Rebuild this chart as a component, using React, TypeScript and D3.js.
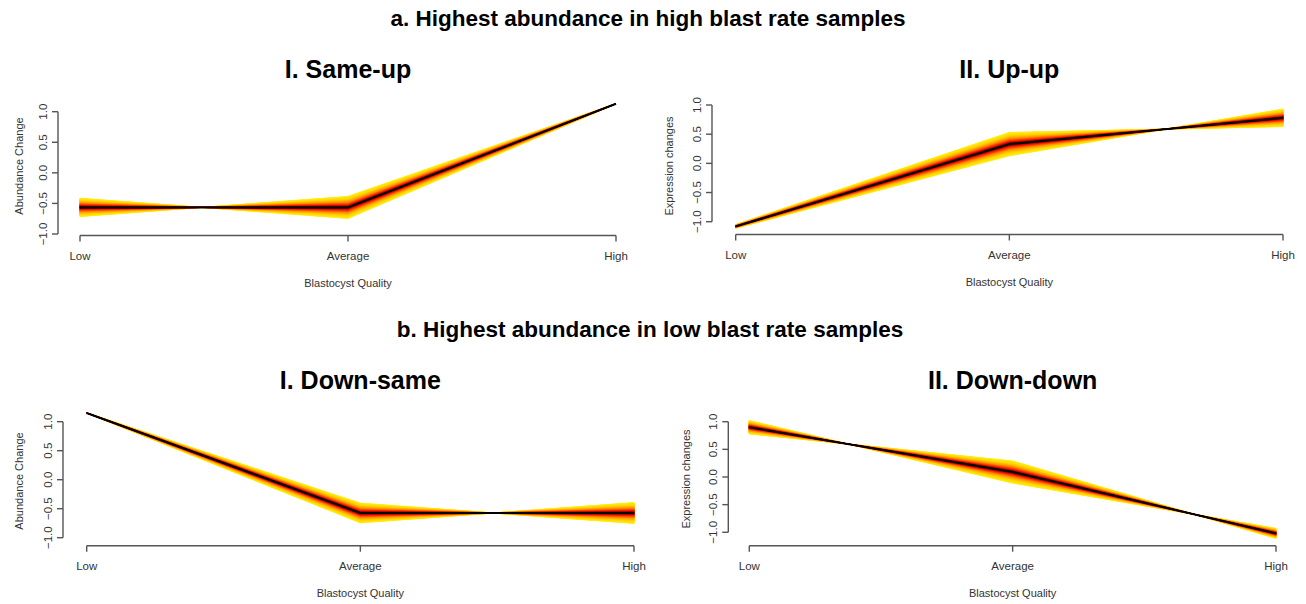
import * as d3 from 'd3';

// x categories and y ticks shared by all four panels
const categories = ['Low', 'Average', 'High'];
const yTicks = [-1, -0.5, 0, 0.5, 1];

// cluster centre per quality level, and signed half-width of the member fan
const sameUpCenter = [-0.565, -0.565, 1.13];
const sameUpSpread = [0.15, -0.18, 0];
const upUpCenter = [-1.08, 0.33, 0.78];
const upUpSpread = [0.03, 0.2, -0.15];
const downSameCenter = [1.15, -0.574, -0.574];
const downSameSpread = [0, 0.17, -0.18];
const downDownCenter = [0.9, 0.09, -1.02];
const downDownSpread = [0.12, -0.2, 0.09];

const sectionTitles = [
  'a. Highest abundance in high blast rate samples',
  'b. Highest abundance in low blast rate samples',
];

const W = 1306;
const H = 604;
const FONT = "'Liberation Sans', Arial, Helvetica, sans-serif";

// layout of each panel, in page pixels
const panels = [
  {
    title: 'I. Same-up', ylab: 'Abundance Change', center: sameUpCenter, spread: sameUpSpread,
    axisX: 58, yTop: 111.7, yBot: 234, axisY: 235.5, xLeft: 80, xRight: 616, ylabX: 23, ylabY: 166, titleY: 78,
  },
  {
    title: 'II. Up-up', ylab: 'Expression changes', center: upUpCenter, spread: upUpSpread,
    axisX: 712, yTop: 105, yBot: 221.7, axisY: 234.5, xLeft: 735.7, xRight: 1283, ylabX: 673, ylabY: 166, titleY: 78,
  },
  {
    title: 'I. Down-same', ylab: 'Abundance Change', center: downSameCenter, spread: downSameSpread,
    axisX: 63, yTop: 421.7, yBot: 537.7, axisY: 545.7, xLeft: 86.7, xRight: 634, ylabX: 23, ylabY: 481, titleY: 389,
  },
  {
    title: 'II. Down-down', ylab: 'Expression changes', center: downDownCenter, spread: downDownSpread,
    axisX: 728.3, yTop: 421.7, yBot: 532.3, axisY: 545.7, xLeft: 749.3, xRight: 1276, ylabX: 690, ylabY: 479, titleY: 389,
  },
];

// membership colour: 1 = outer (yellow) ... 0 = core (dark red)
const fanColor = d3
  .scaleLinear<string>()
  .domain([0, 0.07, 0.22, 0.45, 0.7, 1])
  .range(['#3a0000', '#9a0000', '#ff2200', '#ff9200', '#ffd400', '#fff21a'])
  .interpolate(d3.interpolateRgb);

const levels = d3.range(1, 0, -1 / 40);

function Panel({ p }: { p: (typeof panels)[number] }) {
  const x = d3.scalePoint<string>().domain(categories).range([p.xLeft, p.xRight]);
  const y = d3.scaleLinear().domain([-1, 1]).range([p.yBot, p.yTop]);
  const pts = categories.map((c, i) => ({ c, v: p.center[i], s: p.spread[i] }));

  const mid = (p.xLeft + p.xRight) / 2;

  return (
    <g>
      <text x={mid} y={p.titleY} textAnchor="middle" fontSize={25} fontWeight="bold" fill="#000">
        {p.title}
      </text>

      {levels.map((t) => {
        const area = d3
          .area<(typeof pts)[number]>()
          .x((d) => x(d.c) as number)
          .y0((d) => y(d.v + t * d.s))
          .y1((d) => y(d.v - t * d.s));
        return <path key={t} d={area(pts) ?? ''} fill={fanColor(t)} stroke={fanColor(t)} strokeWidth={1} />;
      })}
      <path
        d={d3.line<(typeof pts)[number]>().x((d) => x(d.c) as number).y((d) => y(d.v))(pts) ?? ''}
        fill="none"
        stroke="#000"
        strokeWidth={2}
        strokeLinejoin="round"
      />

      {/* y axis */}
      <line x1={p.axisX} x2={p.axisX} y1={y(1)} y2={y(-1)} stroke="#555" strokeWidth={1.4} />
      {yTicks.map((v) => (
        <g key={v}>
          <line x1={p.axisX - 6} x2={p.axisX} y1={y(v)} y2={y(v)} stroke="#555" strokeWidth={1.4} />
          <text
            transform={`translate(${p.axisX - 11},${y(v)}) rotate(-90)`}
            textAnchor="middle"
            fontSize={11.5}
            fill="#333"
          >
            {d3.format('.1f')(v)}
          </text>
        </g>
      ))}
      <text transform={`translate(${p.ylabX},${p.ylabY}) rotate(-90)`} textAnchor="middle" fontSize={11} fill="#333">
        {p.ylab}
      </text>

      {/* x axis */}
      <line x1={p.xLeft} x2={p.xRight} y1={p.axisY} y2={p.axisY} stroke="#555" strokeWidth={1.4} />
      {categories.map((c) => (
        <g key={c}>
          <line x1={x(c)} x2={x(c)} y1={p.axisY} y2={p.axisY + 6} stroke="#555" strokeWidth={1.4} />
          <text x={x(c)} y={p.axisY + 24} textAnchor="middle" fontSize={11.5} fill="#333">
            {c}
          </text>
        </g>
      ))}
      <text x={mid} y={p.axisY + 51} textAnchor="middle" fontSize={11} fill="#333">
        Blastocyst Quality
      </text>
    </g>
  );
}

export default function App() {
  return (
    <svg
      width={W}
      height={H}
      style={{ position: 'absolute', left: 0, top: 0, background: '#fff' }}
      fontFamily={FONT}
    >
      <rect width={W} height={H} fill="#fff" />
      <text x={648} y={26} textAnchor="middle" fontSize={22.5} fontWeight="bold">
        {sectionTitles[0]}
      </text>
      <text x={650} y={337} textAnchor="middle" fontSize={22.5} fontWeight="bold">
        {sectionTitles[1]}
      </text>
      {panels.map((p) => (
        <Panel key={p.title} p={p} />
      ))}
    </svg>
  );
}
